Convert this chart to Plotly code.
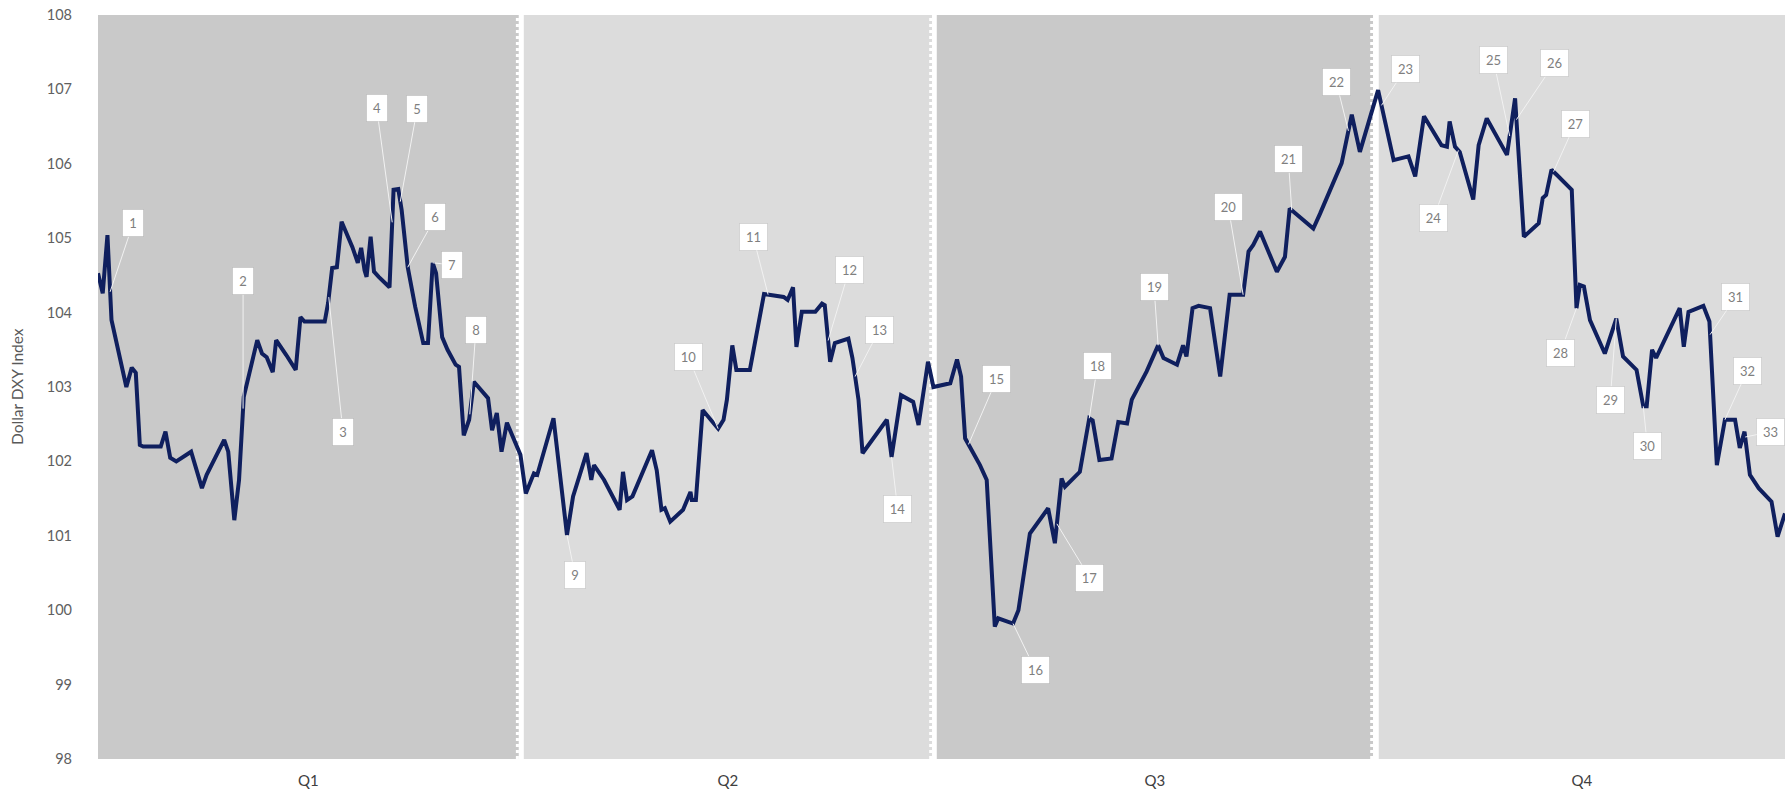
import numpy as np
import plotly.graph_objects as go

# Dollar index (DXY) daily path; x = trading-session position within the year
days = [
    0.0, 0.7, 1.4, 2.0, 4.2, 5.0, 5.6, 6.2, 6.7, 9.3, 10.0, 10.7, 11.6, 13.8, 15.4, 16.1,
    18.7, 19.3, 20.2, 20.9, 21.6, 23.6, 24.3, 25.0, 25.9, 26.4, 27.9, 29.3, 30.0, 30.6,
    33.6, 34.1, 34.7, 35.4, 36.1, 36.8, 37.7, 38.5, 39.0, 39.5, 39.8, 40.4, 40.9, 41.6,
    43.2, 43.8, 44.5, 45.0, 45.9, 47.0, 48.2, 48.9, 49.6, 50.1, 51.0, 51.8, 53.0, 53.5,
    54.2, 55.0, 55.7, 57.8, 58.4, 59.1, 59.8, 60.6, 61.8, 62.6,
    63.4, 64.6, 65.1, 67.5, 69.5, 70.4, 72.4, 73.1, 73.5, 74.3, 75.0, 77.3, 77.8, 78.4,
    79.2, 82.1, 82.8, 83.5, 84.0, 84.8, 86.7, 87.8, 88.0, 88.6, 89.6, 91.9, 92.7, 93.2,
    94.0, 94.6, 96.6, 98.7, 101.6, 102.2, 103.0, 103.5, 104.3, 106.3, 107.3, 107.7,
    108.5, 109.2, 111.2, 111.8, 112.7, 113.3, 116.9, 117.6, 119.0, 120.8, 121.6, 123.0,
    123.8,
    126.3, 127.3, 127.9, 128.5, 130.7, 131.7, 132.9, 133.4, 135.6, 136.4, 138.1, 140.8,
    141.8, 142.8, 143.3, 145.5, 146.9, 147.4, 148.4, 150.2, 151.2, 152.5, 153.2, 154.7,
    155.4, 157.1, 157.9, 159.9, 160.8, 161.3, 162.2, 163.1, 164.8, 166.3, 167.7, 169.7,
    170.5, 171.2, 172.2, 174.7, 175.9, 176.6, 180.1, 181.1, 184.3, 185.8, 187.0, 189.7,
    192.0, 194.2, 195.2, 196.5, 199.1, 199.9, 200.3, 201.1, 201.8, 203.8, 204.6, 205.8,
    206.5, 208.8, 210.0, 211.3, 213.5, 214.1, 214.6, 215.4, 216.2, 218.4, 219.1, 219.6,
    220.2, 221.1, 223.3, 225.0, 226.0, 228.0, 229.0, 229.5, 230.3, 230.9, 234.4, 235.0,
    235.7, 237.9, 238.8, 239.9, 241.1, 242.6, 243.3, 244.0, 244.8, 246.1, 248.0, 248.9,
    250.0,
]
dxy = [
    104.53, 104.26, 105.04, 103.90, 103.00, 103.26, 103.19, 102.22, 102.20, 102.20, 102.40,
    102.05, 102.00, 102.13, 101.64, 101.82, 102.29, 102.13, 101.21, 101.75, 102.87, 103.63,
    103.45, 103.40, 103.20, 103.63, 103.43, 103.23, 103.94, 103.88, 103.88, 104.13, 104.60,
    104.61, 105.22, 105.07, 104.88, 104.67, 104.87, 104.57, 104.48, 105.02, 104.55, 104.48,
    104.34, 105.65, 105.66, 105.38, 104.61, 104.08, 103.59, 103.59, 104.67, 104.53, 103.67,
    103.50, 103.30, 103.27, 102.35, 102.56, 103.07, 102.85, 102.42, 102.65, 102.13, 102.52,
    102.26, 102.09,
    101.57, 101.84, 101.82, 102.58, 101.01, 101.53, 102.11, 101.75, 101.95, 101.84, 101.75,
    101.35, 101.86, 101.48, 101.53, 102.15, 101.88, 101.35, 101.37, 101.19, 101.35, 101.59,
    101.48, 101.48, 102.69, 102.44, 102.56, 102.83, 103.56, 103.23, 103.23, 104.25, 104.21,
    104.17, 104.34, 103.54, 104.01, 104.01, 104.12, 104.10, 103.34, 103.59, 103.65, 103.39,
    102.83, 102.11, 102.56, 102.06, 102.89, 102.80, 102.49, 103.34, 103.00,
    103.05, 103.37, 103.14, 102.31, 101.95, 101.75, 99.78, 99.89, 99.82, 100.00, 101.03,
    101.37, 100.90, 101.77, 101.66, 101.86, 102.58, 102.55, 102.02, 102.04, 102.53, 102.51,
    102.83, 103.09, 103.21, 103.56, 103.39, 103.30, 103.56, 103.41, 104.06, 104.09, 104.06,
    103.14, 104.24, 104.24, 104.82, 104.91, 105.09, 104.55, 104.75, 105.40, 105.13, 105.33,
    106.01, 106.66, 106.16, 106.99,
    106.05, 106.10, 105.83, 106.64, 106.25, 106.23, 106.57, 106.23, 106.16, 105.52, 106.25,
    106.61, 106.50, 106.12, 106.88, 105.02, 105.20, 105.54, 105.58, 105.92, 105.85, 105.65,
    104.06, 104.37, 104.35, 103.90, 103.45, 103.92, 103.41, 103.23, 102.74, 102.74, 103.50,
    103.39, 104.06, 103.54, 104.01, 104.09, 103.88, 101.95, 102.56, 102.56, 102.18, 102.40,
    101.82, 101.64, 101.46, 100.99, 101.30,
]

# Quarter bands (in session units) and their labels
quarters = ["Q1", "Q2", "Q3", "Q4"]
quarter_start = [0.0, 63.1, 124.3, 189.8]
quarter_end = [62.35, 123.6, 188.95, 250.0]
divider_at = [62.15, 123.4, 188.75]
band_colors = ["#c9c9c9", "#dcdcdc", "#c9c9c9", "#dcdcdc"]
quarter_mid = [(a + b) / 2 for a, b in zip(quarter_start, quarter_end)]

# Numbered event callouts: anchor session, callout box position (session, index level)
callout_day = [1.8, 21.5, 34.2, 43.6, 44.8, 45.9, 49.6, 55.1, 69.5, 91.9, 99.3, 108.2,
               112.2, 117.6, 129.0, 135.6, 142.1, 146.9, 157.1, 169.7, 176.9, 185.3,
               190.2, 201.6, 209.2, 210.2, 215.7, 219.1, 225.0, 229.0, 238.9, 241.1, 244.1]
callout_box_day = [5.2, 21.5, 36.3, 41.3, 47.3, 50.0, 52.5, 56.0, 70.7, 87.5, 97.1, 111.3,
                   115.8, 118.5, 133.2, 138.9, 147.0, 148.1, 156.5, 167.5, 176.4, 183.5,
                   193.7, 197.9, 206.8, 215.8, 218.9, 216.7, 224.1, 229.6, 242.7, 244.4, 247.9]
callout_box_val = [105.20, 104.42, 102.40, 106.75, 106.74, 105.28, 104.64, 103.77, 100.47,
                   103.40, 105.02, 104.57, 103.77, 101.36, 103.11, 99.20, 100.43, 103.28,
                   104.34, 105.42, 106.06, 107.10, 107.27, 105.27, 107.39, 107.35, 106.54,
                   103.46, 102.83, 102.21, 104.21, 103.22, 102.40]

FONT = "Lato, 'Open Sans', Arial, sans-serif"

fig = go.Figure()

fig.add_trace(go.Scatter(
    x=days, y=dxy, mode="lines",
    line=dict(color="#0f1f5e", width=4),
    hoverinfo="x+y", showlegend=False,
))

shapes = []
for x0, x1, col in zip(quarter_start, quarter_end, band_colors):
    shapes.append(dict(type="rect", xref="x", yref="paper", x0=x0, x1=x1, y0=0, y1=1,
                       fillcolor=col, line=dict(width=0), layer="below"))
for xd in divider_at:
    shapes.append(dict(type="line", xref="x", yref="paper", x0=xd, x1=xd, y0=0, y1=1,
                       line=dict(color="white", width=3, dash="dot"), layer="below"))

annotations = []
for n, (ad, bd, bv) in enumerate(zip(callout_day, callout_box_day, callout_box_val), start=1):
    av = float(np.interp(ad, days, dxy))
    label = str(n)
    annotations.append(dict(
        x=ad, y=av, xref="x", yref="y", ax=bd, ay=bv, axref="x", ayref="y",
        text=label, showarrow=True, arrowhead=0, arrowwidth=1, arrowcolor="#f2f2f2",
        bgcolor="white", bordercolor="rgba(0,0,0,0.10)", borderwidth=1, borderpad=5,
        width=7 * len(label) + 3, height=16,
        font=dict(family=FONT, size=13, color="#7f7f7f"),
    ))

annotations.append(dict(
    text="Dollar DXY Index", xref="paper", yref="paper", x=-81 / 1687, y=0.5,
    xanchor="center", yanchor="middle", textangle=-90, showarrow=False,
    font=dict(family=FONT, size=15.5, color="#595959"),
))

fig.update_layout(
    width=1785, height=795,
    margin=dict(l=98, r=0, t=15, b=36),
    paper_bgcolor="white", plot_bgcolor="white",
    shapes=shapes, annotations=annotations,
    showlegend=False,
    xaxis=dict(range=[0, 250], showgrid=False, zeroline=False, showline=False,
               tickmode="array", tickvals=quarter_mid, ticktext=quarters, ticks="",
               ticklabelstandoff=11,
               tickfont=dict(family=FONT, size=15, color="#404040")),
    yaxis=dict(range=[98, 108], dtick=1, showgrid=False, zeroline=False, showline=False,
               ticks="", ticklabelstandoff=25,
               tickfont=dict(family=FONT, size=14.5, color="#606060")),
)

fig.write_html("out.html")
